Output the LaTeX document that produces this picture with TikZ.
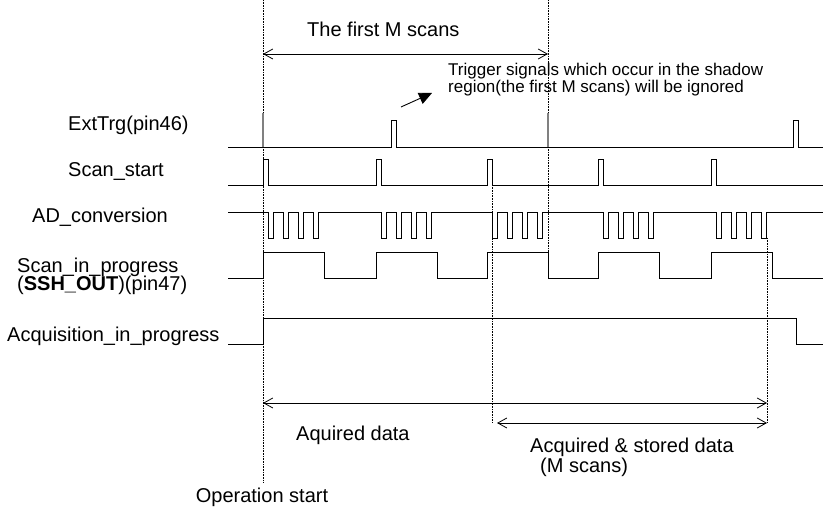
\documentclass[tikz,border=0pt]{standalone}
\usepackage{fontspec}
\setmainfont{Liberation Sans}
\usetikzlibrary{arrows.meta}
\begin{document}
\begin{tikzpicture}[x=1pt,y=-1pt,
	sig/.style={line width=0.9pt},
	guide/.style={line width=0.5pt,dash pattern=on 0.8pt off 0.8pt},
	dim/.style={line width=0.8pt,{Straight Barb[length=9pt,width=10pt]}-{Straight Barb[length=9pt,width=10pt]}},
	lbl/.style={anchor=base west,inner sep=0pt,font=\fontsize{20}{22}\selectfont},
	note/.style={anchor=base west,inner sep=0pt,font=\fontsize{17}{19}\selectfont}]

	\useasboundingbox (0,0) rectangle (825,510);

	% dotted marker lines
	\draw [guide] (263,0) -- (263,482);
	\draw [guide] (548,0) -- (548,252);
	\draw [guide] (492,185) -- (492,423);
	\draw [guide] (767,238) -- (767,423);

	% signal names
	\node [lbl] (ext) at (68,131) {ExtTrg(pin46)};
	\node [lbl] (start) at (68,177) {Scan\_start};
	\node [lbl] (adc) at (32,223) {AD\_conversion};
	\node [lbl] (scan) at (17,273) {Scan\_in\_progress};
	\node [lbl] (ssh) at (17,291) {(\textbf{SSH\_OUT})(pin47)};
	\node [lbl] (acq) at (7,342) {Acquisition\_in\_progress};

	% ExtTrg
	\draw [sig] (228,147) -- (391,147) -- (391,120) -- (396,120) -- (396,147)
		-- (793,147) -- (793,120) -- (798,120) -- (798,147) -- (823,147);
	\draw [line width=1.5pt,gray] (263,113) -- (263,147);
	\draw [line width=1.5pt,gray] (548,113) -- (548,147);

	% Scan_start
	\draw [sig] (228,185) \foreach \p in {263,376,487,598,711} {
		-- (\p,185) -- (\p,159) -- ({\p+5},159) -- ({\p+5},185) } -- (823,185);

	% AD_conversion
	\draw [sig] (228,212) \foreach \p in {263,376,487,598,711} {
		\foreach \k in {0,...,3} {
		-- ({\p+5+15*\k},212) -- ({\p+5+15*\k},238) -- ({\p+10+15*\k},238) -- ({\p+10+15*\k},212) } }
		-- (823,212);

	% Scan_in_progress
	\draw [sig] (228,278) \foreach \p in {263,376,487,598,711} {
		-- (\p,278) -- (\p,252) -- ({\p+61},252) -- ({\p+61},278) } -- (823,278);

	% Acquisition_in_progress
	\draw [sig] (228,344) -- (263,344) -- (263,318) -- (796,318) -- (796,344) -- (823,344);

	% first M scans
	\coordinate (mleft) at (263,54);
	\coordinate (mright) at (548,54);
	\draw [dim] (mleft) -- (mright);
	\node [lbl] (first) at (307,37) {The first M scans};

	\node [note] (trig) at (448,76) {Trigger signals which occur in the shadow};
	\node [note] (trig2) at (448,93) {region(the first M scans) will be ignored};
	\coordinate (ptail) at (401,107);
	\coordinate (ptip) at (432,93);
	\draw [line width=0.9pt,-{Triangle[length=13pt,width=12pt]}] (ptail) -- (ptip);

	% data ranges
	\coordinate (aleft) at (263,403);
	\coordinate (aright) at (767,403);
	\coordinate (sleft) at (497,423);
	\coordinate (sright) at (767,423);
	\draw [dim] (aleft) -- (aright);
	\draw [dim] (sleft) -- (sright);

	\node [lbl] (aq) at (296,441) {Aquired data};
	\node [lbl] (st) at (530,453) {Acquired \& stored data};
	\node [lbl] (ms) at (540,473) {(M scans)};
	\node [lbl,anchor=base] (op) at (262,503) {Operation start};

\end{tikzpicture}
\end{document}
